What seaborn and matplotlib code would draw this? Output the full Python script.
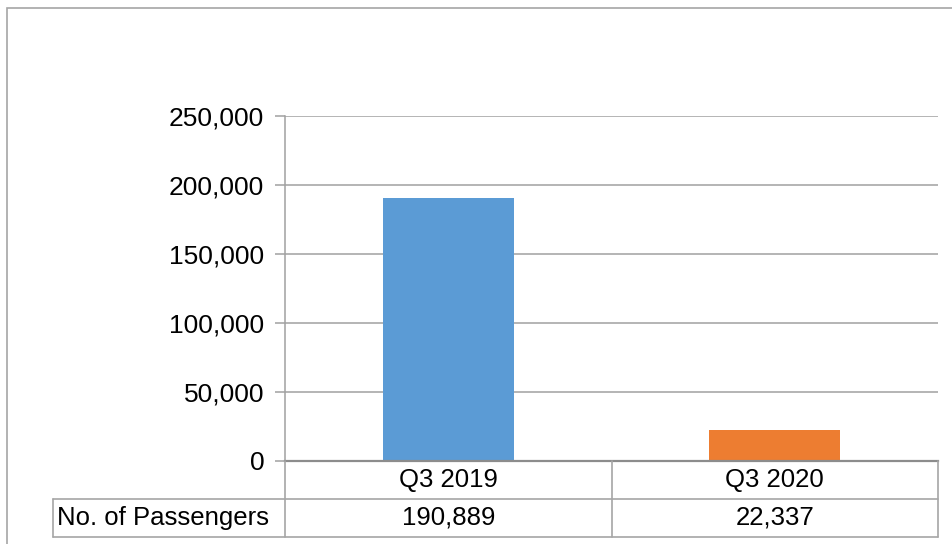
import matplotlib
matplotlib.use("Agg")
import matplotlib.pyplot as plt
import seaborn as sns
import pandas as pd
from matplotlib.lines import Line2D
from matplotlib.patches import Rectangle
from matplotlib.transforms import blended_transform_factory

categories = ["Q3 2019", "Q3 2020"]
passengers = [190889, 22337]
value_labels = ["190,889", "22,337"]
row_label = "No. of Passengers"
yticks = [0, 50000, 100000, 150000, 200000, 250000]
colors = ["#5B9BD5", "#ED7D31"]

sns.set_theme(style="white")
plt.rcParams["font.family"] = ["Liberation Sans", "DejaVu Sans"]

W, H = 952, 544
fig = plt.figure(figsize=(W / 100, H / 100), dpi=100)

def fx(px):
    return px / W

def fy(py):
    return 1 - py / H

# outer chart border
fig.patches.append(Rectangle((fx(7), fy(600)), fx(1000) - fx(7), fy(8) - fy(600),
                             transform=fig.transFigure, fill=False,
                             edgecolor="#a6a6a6", linewidth=1.2))

left, right, top, bottom = 285, 938, 116, 461
ax = fig.add_axes([fx(left), fy(bottom), fx(right) - fx(left), fy(top) - fy(bottom)])

df = pd.DataFrame({"cat": categories, "val": passengers})
sns.barplot(data=df, x="cat", y="val", hue="cat", palette=colors, width=0.4,
            legend=False, ax=ax, saturation=1, linewidth=0, edgecolor="none")

ax.set_ylim(0, 250000)
ax.set_xlim(-0.5, 1.5)
ax.set_yticks(yticks)
ax.set_yticklabels([f"{v:,}" for v in yticks], fontsize=19, color="black")
ax.set_xticks([])
ax.set_xlabel("")
ax.set_ylabel("")
ax.grid(axis="y", color="#a0a0a0", linewidth=1.1)
ax.set_axisbelow(True)
for s in ["top", "right"]:
    ax.spines[s].set_visible(False)
ax.spines["left"].set_color("#a0a0a0")
ax.spines["left"].set_linewidth(1.1)
ax.spines["bottom"].set_color("#8c8c8c")
ax.spines["bottom"].set_linewidth(1.6)
ax.tick_params(axis="y", which="both", left=True, length=7, width=1.1,
               color="#a0a0a0", pad=8)

# data table under the axis
tr = blended_transform_factory(ax.transData, fig.transFigure)
lc = "#a6a6a6"
row1, row2 = 499, 537
for yy, x0 in [(row1, 53), (row2, 53)]:
    fig.add_artist(Line2D([fx(x0), fx(right)], [fy(yy), fy(yy)],
                          transform=fig.transFigure, color=lc, linewidth=1.2))
for xb in [-0.5, 0.5, 1.5]:
    fig.add_artist(Line2D([xb, xb], [fy(bottom), fy(row2)], transform=tr,
                          color=lc, linewidth=1.2))
fig.add_artist(Line2D([fx(53), fx(53)], [fy(row1), fy(row2)],
                      transform=fig.transFigure, color=lc, linewidth=1.2))

for i, (c, v) in enumerate(zip(categories, value_labels)):
    fig.text(i, fy((bottom + row1) / 2), c, transform=tr, ha="center",
             va="center", fontsize=18.5, color="black")
    fig.text(i, fy((row1 + row2) / 2), v, transform=tr, ha="center",
             va="center", fontsize=18.5, color="black")
fig.text(fx(57), fy((row1 + row2) / 2), row_label, ha="left", va="center",
         fontsize=18.5, color="black")

fig.savefig("out.png", dpi=100)
